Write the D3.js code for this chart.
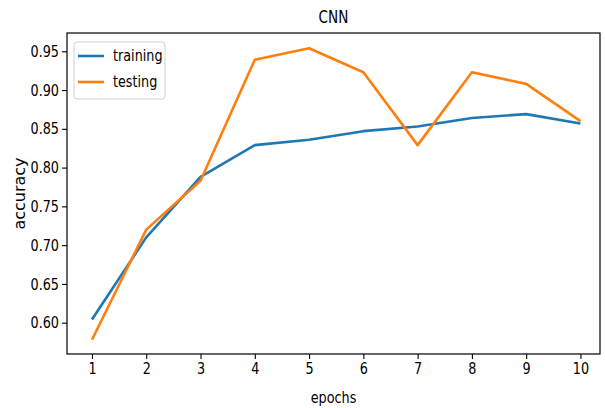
<!DOCTYPE html>
<html>
<head>
<meta charset="utf-8">
<script src="https://cdn.jsdelivr.net/npm/d3@7"></script>
<style>
  body { margin: 0; background: #fff; }
  svg text { font-family: "DejaVu Sans", sans-serif; fill: #000; }
  .sq { transform-box: fill-box; transform-origin: center; transform: scaleX(0.8); }
  .sqR { transform-box: fill-box; transform-origin: right center; transform: scaleX(0.8); }
  .sqL { transform-box: fill-box; transform-origin: left center; transform: scaleX(0.8); }
</style>
</head>
<body>
<svg id="chart" width="605" height="408"></svg>
<script>
var epochs = [1, 2, 3, 4, 5, 6, 7, 8, 9, 10];
var training = [0.604, 0.710, 0.788, 0.829, 0.836, 0.847, 0.853, 0.864, 0.869, 0.857];
var testing = [0.578, 0.720, 0.783, 0.939, 0.954, 0.923, 0.829, 0.923, 0.908, 0.860];
var yTicks = [0.60, 0.65, 0.70, 0.75, 0.80, 0.85, 0.90, 0.95];
var seriesNames = ["training", "testing"];
var colors = ["#1f77b4", "#ff7f0e"];

var svg = d3.select("#chart");
var plotLeft = 67, plotRight = 600, plotTop = 33, plotBottom = 354;

var x = d3.scaleLinear().domain([0.54, 10.36]).range([plotLeft, plotRight]);
var y = d3.scaleLinear().domain([0.5596, 0.9736]).range([plotBottom, plotTop]);

// axes
var xAxis = svg.append("g")
  .attr("transform", "translate(0," + plotBottom + ")")
  .call(d3.axisBottom(x).tickValues(epochs).tickSize(5).tickPadding(4).tickFormat(d3.format("d")));
var yAxis = svg.append("g")
  .attr("transform", "translate(" + plotLeft + ",0)")
  .call(d3.axisLeft(y).tickValues(yTicks).tickSize(5).tickPadding(3).tickFormat(d3.format(".2f")));

[xAxis, yAxis].forEach(function (a) {
  a.select(".domain").remove();
  a.selectAll(".tick line").attr("stroke", "#000").attr("stroke-width", 1.1);
  a.selectAll(".tick text").style("font-size", "16px").attr("fill", "#000")
    .style("font-family", "DejaVu Sans, sans-serif");
});
xAxis.selectAll(".tick text").attr("class", "sq");
yAxis.selectAll(".tick text").attr("class", "sqR");

// frame
svg.append("rect")
  .attr("x", plotLeft).attr("y", plotTop)
  .attr("width", plotRight - plotLeft).attr("height", plotBottom - plotTop)
  .attr("fill", "none").attr("stroke", "#000").attr("stroke-width", 1.2);

// lines
var line = d3.line()
  .x(function (d, i) { return x(epochs[i]); })
  .y(function (d) { return y(d); });

[training, testing].forEach(function (s, k) {
  svg.append("path")
    .datum(s)
    .attr("d", line)
    .attr("fill", "none")
    .attr("stroke", colors[k])
    .attr("stroke-width", 2.6)
    .attr("stroke-linejoin", "round");
});

// title and labels
svg.append("text").attr("class", "sq")
  .attr("x", (plotLeft + plotRight) / 2).attr("y", 23)
  .attr("text-anchor", "middle").style("font-size", "17px").text("CNN");
svg.append("text").attr("class", "sq")
  .attr("x", (plotLeft + plotRight) / 2).attr("y", 403)
  .attr("text-anchor", "middle").style("font-size", "16px").text("epochs");
svg.append("text")
  .attr("transform", "translate(25," + (plotTop + plotBottom) / 2 + ") rotate(-90)")
  .attr("text-anchor", "middle").style("font-size", "16px").text("accuracy");

// legend
var lg = svg.append("g").attr("transform", "translate(74,42)");
lg.append("rect")
  .attr("width", 91).attr("height", 57).attr("rx", 3)
  .attr("fill", "#fff").attr("fill-opacity", 0.8)
  .attr("stroke", "#d0d0d0").attr("stroke-width", 1);
seriesNames.forEach(function (name, k) {
  var yy = 14 + k * 26;
  lg.append("line")
    .attr("x1", 4).attr("x2", 30).attr("y1", yy).attr("y2", yy)
    .attr("stroke", colors[k]).attr("stroke-width", 2.6);
  lg.append("text").attr("class", "sqL")
    .attr("x", 39).attr("y", yy + 5)
    .style("font-size", "16px").text(name);
});
</script>
</body>
</html>
